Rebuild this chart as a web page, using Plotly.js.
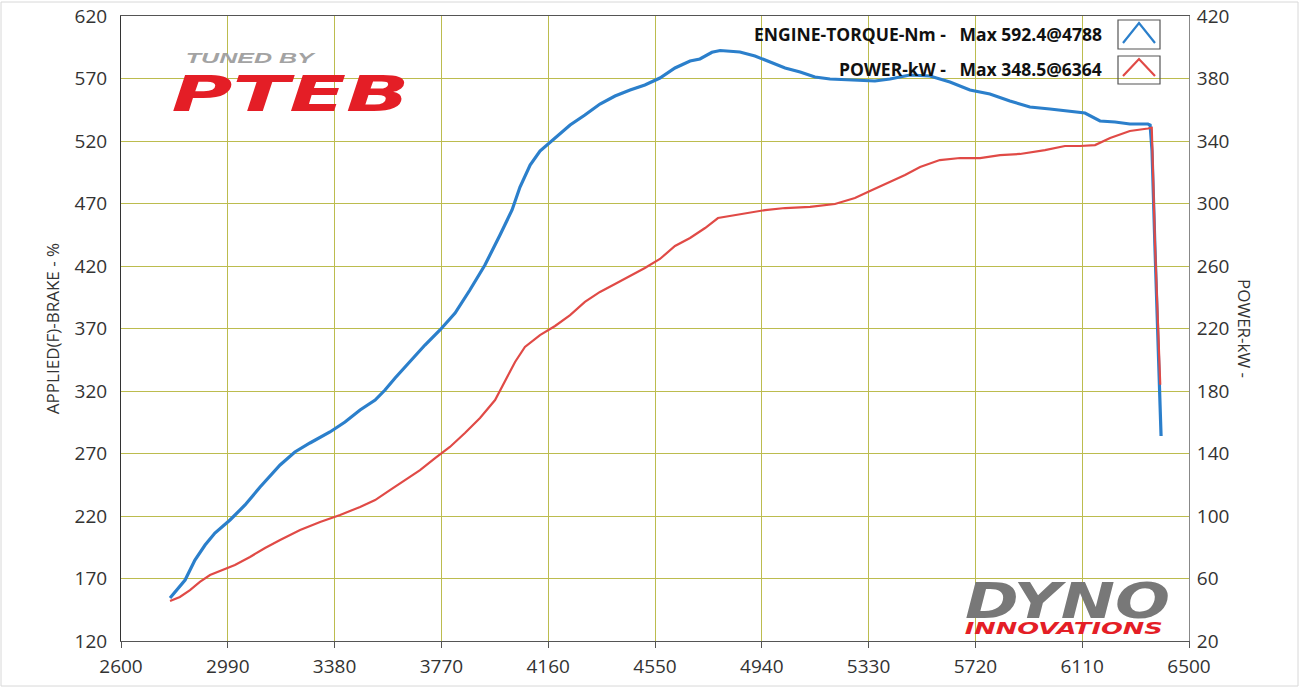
<!DOCTYPE html>
<html><head><meta charset="utf-8">
<script src="https://cdn.plot.ly/plotly-3.0.1.min.js"></script>
<style>html,body{margin:0;padding:0;background:#fff;}#chart{width:1300px;height:687px;}</style>
</head><body><div id="chart"></div>
<script>
// Engine torque (Nm, left axis) vs RPM
const torqueRpm = [2779,2834,2870,2907,2943,2998,3053,3108,3181,3235,3290,3363,3418,3473,3528,3564,3601,3655,3710,3765,3820,3874,3929,3984,4028,4057,4094,4130,4185,4240,4294,4349,4404,4459,4513,4568,4623,4678,4714,4758,4788,4860,4915,4970,5025,5080,5134,5189,5262,5353,5408,5481,5554,5627,5700,5773,5846,5919,5992,6047,6120,6175,6230,6284,6350,6358,6365,6376,6387,6398];
const torqueNm = [154.4,168.8,184.8,196.8,206.4,216.8,228.8,243.2,260.8,271.2,278.4,287.2,295.2,304.8,312.8,320.8,330.4,343.2,356.8,368.8,382.4,400.8,420.8,444.8,464.8,483.2,500.8,512,522.4,532.8,540.8,549.6,556,560.8,564.8,570.4,578.4,584,585.6,591,592.4,591.2,588,583.2,578.4,575.2,571.2,569.6,568.8,568,569.6,572.8,572,567.2,560.8,557.6,552,547.2,545.6,544,542.4,536,535.2,533.6,533.6,532.8,512,432.8,352.8,284];
// Power (kW, right axis) vs RPM
const powerRpm = [2779,2815,2852,2888,2925,2961,3016,3071,3126,3181,3254,3327,3400,3473,3528,3582,3637,3692,3747,3801,3856,3911,3966,4002,4039,4075,4130,4185,4240,4294,4349,4404,4459,4513,4568,4623,4678,4733,4780,4842,4897,4952,5025,5116,5207,5280,5335,5408,5463,5518,5590,5664,5737,5810,5883,5974,6047,6102,6157,6212,6284,6350,6364,6376,6387,6395];
const powerKw = [45.6,48.2,52.6,57.8,62.2,64.8,68.6,73.8,79.5,84.6,91.0,96.2,100.6,105.8,110.2,116.6,123.0,129.4,137.1,144.2,153.1,162.7,174.2,185.8,198.6,208.2,215.8,221.6,228.6,237.0,243.4,248.5,253.6,258.7,264.5,272.8,277.9,284.3,290.7,292.6,293.9,295.8,297.1,297.8,299.7,303.5,308.0,313.8,318.2,323.4,327.8,329.1,329.1,331.0,331.7,334.2,336.8,336.8,337.4,341.9,346.4,348.0,348.5,273.4,225,184];

const legendLabels = ["ENGINE-TORQUE-Nm -   Max 592.4@4788", "POWER-kW -   Max 348.5@6364"];
const xTicks = [2600,2990,3380,3770,4160,4550,4940,5330,5720,6110,6500];

const gridC = '#bcbc4e';
const tickFont = {family: 'Open Sans, Noto Sans, sans-serif', size: 19, color: '#333'};

const traces = [
  {x: torqueRpm, y: torqueNm, type: 'scatter', mode: 'lines', name: legendLabels[0],
   line: {color: '#2b7fcb', width: 3.2}, yaxis: 'y'},
  {x: powerRpm, y: powerKw, type: 'scatter', mode: 'lines', name: legendLabels[1],
   line: {color: '#e04a46', width: 2.2}, yaxis: 'y2'}
];
traces.reverse();

const px = v => (v - 121) / 1068;
const py = v => (641 - v) / 625;

const layout = {
  width: 1300, height: 687,
  margin: {l: 121, r: 111, t: 16, b: 46},
  paper_bgcolor: '#fff', plot_bgcolor: '#fff',
  showlegend: false,
  font: {family: 'Open Sans, Noto Sans, sans-serif', color: '#333'},
  xaxis: {range: [2600, 6500], tickvals: xTicks, ticktext: xTicks.map(String),
    showgrid: true, gridcolor: gridC, gridwidth: 1, zeroline: false,
    showline: true, linecolor: '#555', linewidth: 1, mirror: true,
    ticks: 'outside', ticklen: 6, tickcolor: '#555', tickfont: tickFont, ticklabelstandoff: 2},
  yaxis: {range: [120, 620], tick0: 120, dtick: 50,
    showgrid: true, gridcolor: gridC, gridwidth: 1, zeroline: false,
    showline: true, linecolor: '#333', linewidth: 1,
    ticks: '', tickfont: tickFont, ticklabelstandoff: 9,
    title: {text: 'APPLIED(F)-BRAKE - %', font: {size: 17, color: '#333'}, standoff: 10}},
  yaxis2: {range: [20, 420], tick0: 20, dtick: 40, overlaying: 'y', side: 'right',
    showgrid: false, zeroline: false, showline: true, linecolor: '#888', linewidth: 1,
    ticks: '', tickfont: tickFont, ticklabelstandoff: 3},
  annotations: [
    {xref: 'paper', yref: 'paper', x: px(1104), y: py(34), xanchor: 'right', yanchor: 'middle', showarrow: false,
     text: '<b>' + legendLabels[0] + '</b>', font: {size: 17.5, color: '#111', family: 'Open Sans, sans-serif'}},
    {xref: 'paper', yref: 'paper', x: px(1104), y: py(69), xanchor: 'right', yanchor: 'middle', showarrow: false,
     text: '<b>' + legendLabels[1] + '</b>', font: {size: 17.5, color: '#111', family: 'Open Sans, sans-serif'}},
    {xref: 'paper', yref: 'paper', x: px(1245), y: py(328), xanchor: 'center', yanchor: 'middle', showarrow: false,
     textangle: 90, text: 'POWER-kW -', font: {size: 17, color: '#333'}},
    {xref: 'paper', yref: 'paper', x: px(250), y: py(58), xanchor: 'center', yanchor: 'middle', showarrow: false,
     text: '<b><i>TUNED BY</i></b>', font: {size: 14, color: '#a3a3a3', family: 'Liberation Sans, sans-serif'}},
    {xref: 'paper', yref: 'paper', x: px(290), y: py(94), xanchor: 'center', yanchor: 'middle', showarrow: false,
     text: '<b><i>PTEB</i></b>', font: {size: 50, color: '#e41e26', family: 'DejaVu Sans, sans-serif'}},
    {xref: 'paper', yref: 'paper', x: px(1067), y: py(601), xanchor: 'center', yanchor: 'middle', showarrow: false,
     text: '<b><i>DYNO</i></b>', font: {size: 49, color: '#787878', family: 'DejaVu Sans, sans-serif'}},
    {xref: 'paper', yref: 'paper', x: px(1064), y: py(629), xanchor: 'center', yanchor: 'middle', showarrow: false,
     text: '<b><i>INNOVATIONS</i></b>', font: {size: 15, color: '#e41e26', family: 'DejaVu Sans, sans-serif'}}
  ],
  shapes: [
    {type: 'rect', xref: 'paper', yref: 'paper', x0: px(1118), x1: px(1160), y0: py(49), y1: py(20),
     line: {color: '#555', width: 1.2}, fillcolor: 'rgba(0,0,0,0)'},
    {type: 'rect', xref: 'paper', yref: 'paper', x0: px(1118), x1: px(1160), y0: py(84), y1: py(56),
     line: {color: '#555', width: 1.2}, fillcolor: 'rgba(0,0,0,0)'},
    {type: 'path', xref: 'paper', yref: 'paper',
     path: `M ${px(1123)} ${py(43)} L ${px(1139)} ${py(23)} L ${px(1155)} ${py(43)}`,
     line: {color: '#2b7fcb', width: 2.2}},
    {type: 'path', xref: 'paper', yref: 'paper',
     path: `M ${px(1123)} ${py(76)} L ${px(1139)} ${py(59)} L ${px(1155)} ${py(76)}`,
     line: {color: '#e04a46', width: 2.2}},
    {type: 'rect', xref: 'paper', yref: 'paper', x0: px(1), x1: px(1298), y0: py(686), y1: py(2),
     line: {color: '#d8d8d8', width: 1}, fillcolor: 'rgba(0,0,0,0)', layer: 'below'}
  ]
};

Plotly.newPlot('chart', traces, layout, {displayModeBar: false, staticPlot: true}).then(() => {
  const widths = {'PTEB': 238, 'DYNO': 205, 'INNOVATIONS': 198, 'TUNED BY': 128};
  document.querySelectorAll('.annotation-text').forEach(t => {
    const s = t.textContent.trim();
    if (widths[s]) {
      t.setAttribute('textLength', widths[s]);
      t.setAttribute('lengthAdjust', 'spacingAndGlyphs');
    }
  });
});
</script>
</body></html>
